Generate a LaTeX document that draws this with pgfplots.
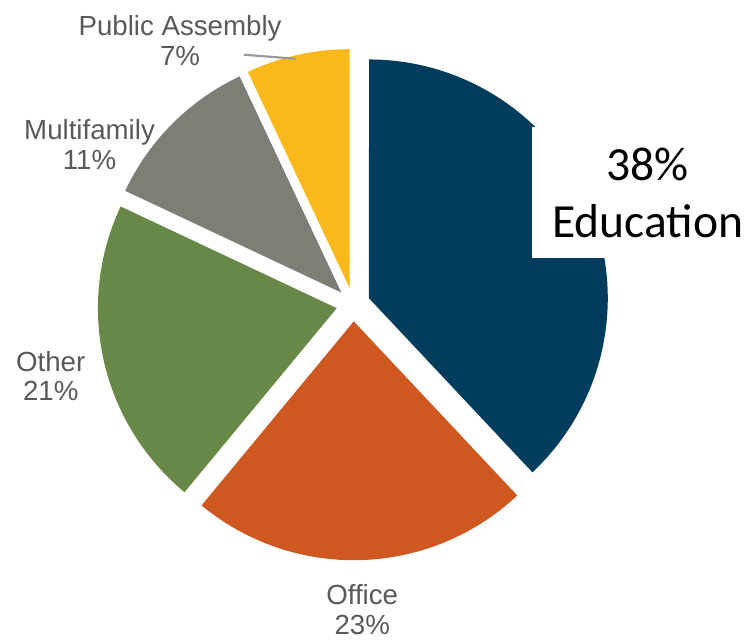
\documentclass[border=0pt]{standalone}
\usepackage{pgfplots}
\pgfplotsset{compat=1.18}
\usepackage{fontspec}
\setmainfont{Liberation Sans}
\newfontfamily\calibri{Carlito}
\definecolor{edu}{RGB}{0,61,92}
\definecolor{office}{RGB}{207,88,32}
\definecolor{other}{RGB}{103,136,70}
\definecolor{multi}{RGB}{123,127,118}
\definecolor{pubas}{RGB}{250,184,28}
\definecolor{lblgray}{RGB}{89,89,89}
\newcommand{\cx}{355}
\newcommand{\cy}{331}
\newcommand{\R}{240}
\newcommand{\ex}{17}
% #1 cumulative start (%), #2 value (%), #3 colour
\newcommand{\slice}[3]{%
  \addplot[fill=#3,draw=none,domain={90-3.6*(#1+#2)}:{90-3.6*(#1)},samples=90]
    ({\cx+\ex*cos(90-3.6*(#1+#2/2))+\R*cos(x)},{\cy+\ex*sin(90-3.6*(#1+#2/2))+\R*sin(x)})
    -- (axis cs:{\cx+\ex*cos(90-3.6*(#1+#2/2))},{\cy+\ex*sin(90-3.6*(#1+#2/2))}) -- cycle;
}
\begin{document}
\begin{tikzpicture}
\begin{axis}[width=375pt,height=318.5pt,scale only axis,
  xmin=0,xmax=750,ymin=0,ymax=637,hide axis,clip=false]
\path (axis cs:0,0) rectangle (axis cs:750,637);
\slice{0}{38}{edu}
\slice{38}{23}{office}
\slice{61}{21}{other}
\slice{82}{11}{multi}
\slice{93}{7}{pubas}
\draw[black!40,line width=1.1pt] (axis cs:245,582) -- (axis cs:297,578);
\fill[white] (axis cs:535,378) rectangle (axis cs:750,509);
\node[font=\calibri\fontsize{23.9}{29}\selectfont,align=center] at (axis cs:651,443) {38\%\\Education};
\begin{scope}[every node/.style={align=center,text=lblgray,font=\fontsize{13.9}{15}\selectfont}]
\node at (axis cs:181,596) {Public Assembly\\7\%};
\node at (axis cs:90,492) {Multifamily\\11\%};
\node at (axis cs:51,259) {Other\\21\%};
\node at (axis cs:364,24) {Office\\23\%};
\end{scope}
\end{axis}
\end{tikzpicture}
\end{document}
